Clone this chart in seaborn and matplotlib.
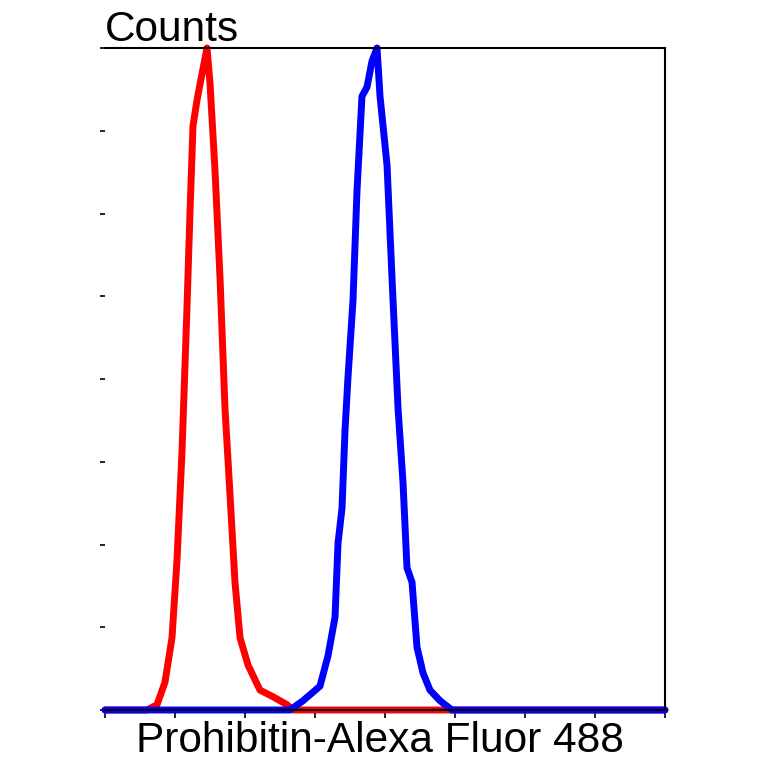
import matplotlib
matplotlib.use("Agg")
import matplotlib.pyplot as plt
import seaborn as sns

sns.set_style("white")
plt.rcParams["font.family"] = ["Liberation Sans", "DejaVu Sans"]
plt.rcParams["text.color"] = "black"

# control / isotype histogram (red)
red_x = [0.0, 0.60, 0.743, 0.857, 0.957, 1.029, 1.10, 1.171, 1.214, 1.257, 1.314, 1.386, 1.457,
         1.50, 1.571, 1.643, 1.714, 1.786, 1.857, 1.929, 2.043, 2.214, 2.40, 2.60, 2.686, 8.0]
red_y = [0.0, 0.0, 0.008, 0.042, 0.109, 0.227, 0.39, 0.607, 0.751, 0.882, 0.921, 0.961, 1.0,
         0.947, 0.816, 0.653, 0.456, 0.325, 0.193, 0.109, 0.068, 0.03, 0.02, 0.008, 0.0, 0.0]

# Prohibitin stained histogram (blue)
blue_x = [0.0, 2.643, 2.829, 3.071, 3.186, 3.286, 3.329, 3.386, 3.429, 3.471, 3.543, 3.60, 3.671,
          3.743, 3.814, 3.886, 3.929, 4.029, 4.10, 4.186, 4.257, 4.314, 4.386, 4.457, 4.543,
          4.643, 4.786, 4.957, 8.0]
blue_y = [0.0, 0.0, 0.014, 0.036, 0.082, 0.14, 0.252, 0.305, 0.423, 0.502, 0.619, 0.784, 0.927,
          0.941, 0.98, 1.0, 0.927, 0.823, 0.653, 0.456, 0.344, 0.215, 0.193, 0.095, 0.056,
          0.03, 0.014, 0.0, 0.0]

x_ticks = list(range(0, 9))
y_ticks = [k / 8 for k in range(0, 9)]

fig = plt.figure(figsize=(7.64, 7.64), dpi=100)
ax = fig.add_axes([105 / 764, 54 / 764, 560 / 764, 662 / 764])

sns.lineplot(x=red_x, y=red_y, color="#ff0000", lw=5, ax=ax, sort=False, clip_on=False,
             solid_joinstyle="round")
sns.lineplot(x=blue_x, y=blue_y, color="#0000ff", lw=5, ax=ax, sort=False, clip_on=False,
             solid_joinstyle="round")

ax.set_xlim(0, 8)
ax.set_ylim(0, 1)
ax.set_xticks(x_ticks)
ax.set_yticks(y_ticks)
ax.set_xticklabels([])
ax.set_yticklabels([])
ax.tick_params(axis="x", direction="out", length=6, width=1.2, color="black", bottom=True)
ax.tick_params(axis="y", direction="out", length=3.5, width=1.2, color="black", left=True, pad=2)

ax.spines["left"].set_visible(False)
for side in ["top", "right", "bottom"]:
    ax.spines[side].set_color("black")
    ax.spines[side].set_linewidth(1.5)

ax.set_xlabel("")
ax.set_ylabel("")
fig.text(380 / 764, 12 / 764, "Prohibitin-Alexa Fluor 488", ha="center", va="baseline",
         fontsize=30.5, color="black")
fig.text(105 / 764, 723 / 764, "Counts", ha="left", va="baseline", fontsize=30.5, color="black")

fig.savefig("out.png", dpi=100)
